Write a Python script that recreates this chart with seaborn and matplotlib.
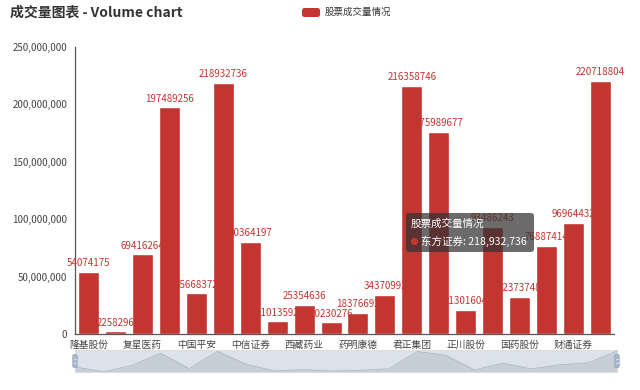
import matplotlib
matplotlib.use("Agg")
import matplotlib.pyplot as plt
import seaborn as sns
import pandas as pd
import numpy as np
from matplotlib.patches import FancyBboxPatch, Rectangle, Circle
from matplotlib.ticker import FuncFormatter

# ---------------- data ----------------
stocks = ["隆基股份", "通威股份", "复星医药", "招商银行", "中国平安",
          "东方证券", "中信证券", "贵州茅台", "西藏药业", "恒瑞医药",
          "药明康德", "万科A", "君正集团", "中国石油", "正川股份",
          "海康威视", "国药股份", "格力电器", "财通证券", "华泰证券"]
volumes = [54074175, 2258296, 69416264, 197489256, 35668372,
           218932736, 80364197, 11013592, 25354636, 10230276,
           18376692, 34370992, 216358746, 175989677, 21301604,
           93486243, 32373748, 76887414, 96964432, 220718804]
series_name = "股票成交量情况"
title_text = "成交量图表 - Volume chart"
y_ticks = [0, 50000000, 100000000, 150000000, 200000000, 250000000]
tooltip_index = 5

BAR = "#c23531"
W, H = 640, 390

sns.set_theme(style="white")
plt.rcParams['font.family'] = ['Noto Sans CJK SC', 'DejaVu Sans']

df = pd.DataFrame({"stock": stocks, "volume": volumes})

fig = plt.figure(figsize=(W / 100, H / 100), dpi=100)

def px_axes(x0, y0, x1, y1):
    return [x0 / W, 1 - y1 / H, (x1 - x0) / W, (y1 - y0) / H]

ax = fig.add_axes(px_axes(75, 47, 614, 334))
sns.barplot(data=df, x="stock", y="volume", color=BAR, saturation=1,
            width=0.78, ax=ax)
for p in ax.patches:
    p.set_zorder(2)

for i, v in enumerate(volumes):
    ax.annotate(str(v), (i, v), xytext=(0, 2.5), textcoords="offset points",
                ha="center", va="bottom", color=BAR, fontsize=7, zorder=5)

ax.set_xlim(-0.5, len(stocks) - 0.5)
ax.set_ylim(y_ticks[0], y_ticks[-1])
ax.set_yticks(y_ticks)
ax.yaxis.set_major_formatter(FuncFormatter(lambda v, p: f"{v:,.0f}"))
ax.set_xticks(range(0, len(stocks), 2))
ax.set_xticklabels(stocks[::2])
ax.set_xticks(np.arange(-0.5, len(stocks), 2), minor=True)
ax.tick_params(axis="x", which="major", length=0, pad=4, labelsize=7, labelcolor="#444")
ax.tick_params(axis="x", which="minor", length=3.5, width=0.8, color="#555", direction="out")
ax.tick_params(axis="y", length=3.5, width=0.8, color="#555", direction="out",
               labelsize=7, labelcolor="#444", pad=2)
ax.set_xlabel("")
ax.set_ylabel("")
for s in ["top", "right"]:
    ax.spines[s].set_visible(False)
for s in ["left", "bottom"]:
    ax.spines[s].set_color("#555")
    ax.spines[s].set_linewidth(0.9)
ax.grid(False)

# ---------------- data zoom slider ----------------
axs = fig.add_axes(px_axes(75, 350, 617, 372))
xs = np.arange(len(volumes))
axs.fill_between(xs, volumes, color=(47/255, 69/255, 84/255), alpha=0.12, lw=0)
axs.plot(xs, volumes, color=(47/255, 69/255, 84/255), alpha=0.3, lw=0.5)
axs.set_xlim(0, len(volumes) - 1)
axs.set_ylim(0, max(volumes) * 1.05)
axs.set_facecolor((167/255, 183/255, 204/255, 0.4))
axs.set_xticks([])
axs.set_yticks([])
for s in axs.spines.values():
    s.set_color("#dddddd")
    s.set_linewidth(0.8)

# ---------------- overlay (title, legend, tooltip, handles) ----------------
ov = fig.add_axes([0, 0, 1, 1], zorder=10)
ov.set_xlim(0, W)
ov.set_ylim(H, 0)
ov.axis("off")
ov.patch.set_alpha(0)

ov.text(10, 13, title_text, fontsize=10, fontweight="bold", color="#333",
        ha="left", va="center")
ov.add_patch(FancyBboxPatch((302, 8), 18, 9, boxstyle="round,pad=0,rounding_size=2.5",
                            fc=BAR, ec="none"))
ov.text(325, 12.5, series_name, fontsize=6.8, color="#333", ha="left", va="center")

# slider handles
for hx in (75, 617):
    ov.add_patch(FancyBboxPatch((hx - 2.2, 354.5), 4.4, 13,
                                boxstyle="round,pad=0,rounding_size=1.5",
                                fc="#a7b7cc", ec="#8fa0b8", lw=0.5))
    ov.plot([hx - 0.8, hx + 0.8], [359, 359], color="white", lw=0.5)
    ov.plot([hx - 0.8, hx + 0.8], [363, 363], color="white", lw=0.5)

# tooltip
ov.add_patch(FancyBboxPatch((406, 213), 128, 39, boxstyle="round,pad=0,rounding_size=3",
                            fc=(50/255, 50/255, 50/255, 0.72), ec="none"))
ov.text(411, 224, series_name, fontsize=7.6, color="white", ha="left", va="center")
ov.add_patch(Circle((414.5, 241.5), 3.6, fc=BAR, ec="none"))
ov.text(421, 241.5, f"{stocks[tooltip_index]}: {volumes[tooltip_index]:,}",
        fontsize=7.6, color="white", ha="left", va="center")

fig.savefig("out.png", dpi=100, facecolor="white")
